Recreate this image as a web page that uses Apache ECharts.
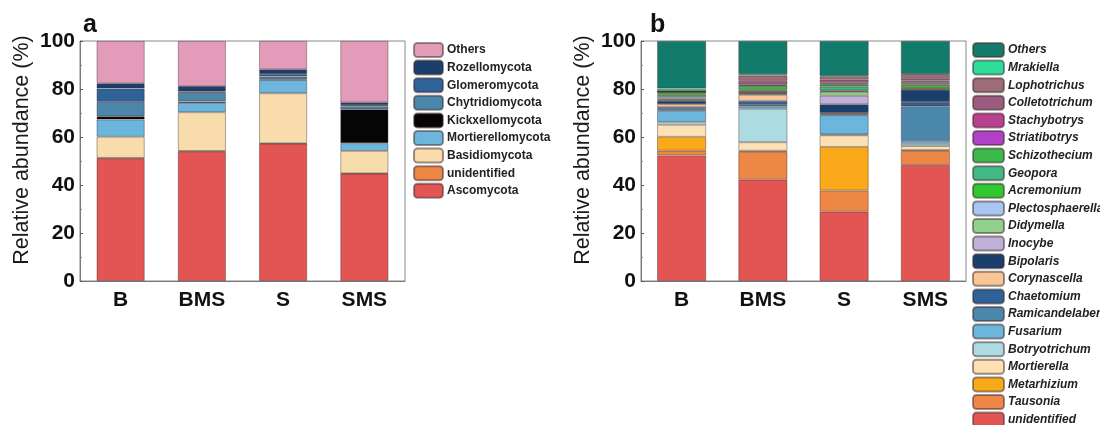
<!DOCTYPE html>
<html>
<head>
<meta charset="utf-8">
<script src="https://cdn.jsdelivr.net/npm/echarts@6/dist/echarts.min.js"></script>
<style>
html,body{margin:0;padding:0;background:#fff;}
#c{width:1100px;height:425px;}
</style>
</head>
<body>
<div id="c"></div>
<script>
// ---- data ----
const samples = ['B', 'BMS', 'S', 'SMS'];
const yTicks = [0, 20, 40, 60, 80, 100];

// panel a: phyla, stacking order bottom -> top
const phyla = ['Ascomycota', 'unidentified', 'Basidiomycota', 'Mortierellomycota', 'Kickxellomycota',
  'Chytridiomycota', 'Glomeromycota', 'Rozellomycota', 'Others'];
const phylaColors = ['#e35552', '#ee8646', '#f8dcab', '#6cb5dc', '#050505',
  '#4b86ab', '#2f6299', '#1b3f6c', '#e39bba'];
const phylumB   = [51.1, 0.2, 8.8, 7.2, 1.3, 6.0, 5.6, 2.2, 17.6];
const phylumBMS = [54.0, 0.2, 16.1, 3.9, 0.6, 3.6, 0.6, 2.2, 18.8];
const phylumS   = [57.2, 0.2, 20.8, 5.5, 0.3, 1.2, 1.0, 2.0, 11.8];
const phylumSMS = [44.7, 0.2, 9.3, 3.2, 14.1, 1.3, 0.5, 1.1, 25.6];

// panel b: genera, stacking order bottom -> top
const genera = ['unidentified', 'Tausonia', 'Metarhizium', 'Mortierella', 'Botryotrichum', 'Fusarium',
  'Ramicandelaber', 'Chaetomium', 'Corynascella', 'Bipolaris', 'Inocybe', 'Didymella', 'Plectosphaerella',
  'Acremonium', 'Geopora', 'Schizothecium', 'Striatibotrys', 'Stachybotrys', 'Colletotrichum',
  'Lophotrichus', 'Mrakiella', 'Others'];
const generaColors = ['#e35552', '#ee8646', '#f9a919', '#fde1b5', '#acdce1', '#6cb5dc',
  '#4b86ab', '#2f6299', '#f8c596', '#1b3f6c', '#c1b1d9', '#8fd18d', '#a9c5f1',
  '#2fc92f', '#41b985', '#3cb94b', '#b141c9', '#b9418f', '#9b5b7f',
  '#9c6c79', '#2edd99', '#137b6b'];
const genusB   = [52.3, 2.0, 5.8, 5.0, 1.2, 4.6, 0.8, 0.8, 1.2, 1.4, 0.3, 0.5, 0.8, 1.0, 0.3, 0.7, 0.1, 0.1, 0.1, 0.2, 1.0, 19.8];
const genusBMS = [42.2, 11.6, 0.5, 3.5, 14.0, 1.0, 0.6, 1.6, 2.6, 0.5, 0.2, 0.3, 0.2, 0.6, 0.3, 1.6, 0.2, 0.3, 1.6, 2.2, 0.6, 13.8];
const genusS   = [28.9, 8.8, 18.2, 4.8, 0.4, 8.0, 0.3, 0.4, 0.2, 3.6, 3.6, 1.6, 0.3, 0.3, 1.6, 0.8, 0.3, 0.4, 1.4, 1.2, 0.4, 14.5];
const genusSMS = [48.4, 5.7, 0.5, 1.6, 1.0, 1.2, 14.4, 1.6, 0.2, 5.0, 0.2, 0.5, 0.2, 1.1, 0.3, 0.6, 0.5, 0.5, 1.0, 1.4, 0.3, 13.8];

// ---- chart ----
const FONT = 'Liberation Sans, Arial, sans-serif';
const phylaRows = [phylumB, phylumBMS, phylumS, phylumSMS];
const generaRows = [genusB, genusBMS, genusS, genusSMS];
// right-panel names get a trailing space so the two legends stay independent
const genusKey = g => (phyla.indexOf(g) >= 0 ? g + ' ' : g);

const series = [];
phyla.forEach((p, i) => {
  series.push({
    name: p, type: 'bar', stack: 'a', xAxisIndex: 0, yAxisIndex: 0,
    barWidth: 48,
    data: phylaRows.map(r => r[i]),
    itemStyle: { color: phylaColors[i], borderColor: 'rgba(60,40,40,0.5)', borderWidth: 0.8 },
    emphasis: { disabled: true }
  });
});
genera.forEach((g, i) => {
  series.push({
    name: genusKey(g), type: 'bar', stack: 'b', xAxisIndex: 1, yAxisIndex: 1,
    barWidth: 49,
    data: generaRows.map(r => r[i]),
    itemStyle: { color: generaColors[i], borderColor: 'rgba(60,40,40,0.5)', borderWidth: 0.8 },
    emphasis: { disabled: true }
  });
});

function xAxis(idx) {
  return {
    type: 'category', gridIndex: idx, data: samples,
    axisLine: { lineStyle: { color: '#777', width: 1 } },
    axisTick: { inside: true, alignWithLabel: true, length: 3, lineStyle: { color: '#555' } },
    axisLabel: { color: '#111', fontSize: 21, fontWeight: 'bold', fontFamily: FONT, margin: 9 }
  };
}
function yAxis(idx) {
  return {
    type: 'value', gridIndex: idx, min: 0, max: 100, interval: 20,
    axisLine: { show: true, lineStyle: { color: '#777', width: 1 } },
    axisTick: { show: true, inside: true, length: 3, lineStyle: { color: '#555' } },
    minorTick: { show: true, splitNumber: 2, length: 2, lineStyle: { color: '#888' } },
    splitLine: { show: false },
    axisLabel: {
      color: '#111', fontSize: 21, fontWeight: 'bold', fontFamily: FONT, margin: 5,
      formatter: v => (yTicks.indexOf(v) >= 0 ? String(v) : '')
    }
  };
}

const genusLegendOrder = genera.slice().reverse().map(genusKey);
const legendCommonB = {
  orient: 'vertical', left: 972, padding: 0, height: 220,
  itemWidth: 31, itemHeight: 14, itemGap: 1.6,
  selectedMode: false,
  textStyle: { color: '#222', fontSize: 12, fontWeight: 'bold', fontStyle: 'italic', fontFamily: FONT, lineHeight: 14, padding: [0, 0, 0, -1] }
};

const chart = echarts.init(document.getElementById('c'), null, { renderer: 'canvas' });
chart.setOption({
  animation: false,
  backgroundColor: '#fff',
  grid: [
    { left: 80, top: 41, width: 325, height: 240, show: true, borderColor: '#888', borderWidth: 1, backgroundColor: 'transparent' },
    { left: 641, top: 41, width: 325, height: 240, show: true, borderColor: '#888', borderWidth: 1, backgroundColor: 'transparent' }
  ],
  xAxis: [xAxis(0), xAxis(1)],
  yAxis: [yAxis(0), yAxis(1)],
  legend: [
    {
      data: phyla.slice().reverse(),
      orient: 'vertical', left: 413, top: 42, padding: 0,
      itemWidth: 29, itemHeight: 14, itemGap: 1.6,
      selectedMode: false,
      textStyle: { color: '#222', fontSize: 12, fontWeight: 'bold', fontFamily: FONT, lineHeight: 14, padding: [0, 0, 0, -1] }
    },
    Object.assign({ data: genusLegendOrder.slice(0, 11), top: 42 }, legendCommonB),
    Object.assign({ data: genusLegendOrder.slice(11), top: 42 + 11 * 17.6 }, legendCommonB)
  ],
  graphic: [
    { type: 'text', left: 83, top: 13, style: { text: 'a', font: 'bold 25px ' + FONT, fill: '#111' } },
    { type: 'text', left: 650, top: 13, style: { text: 'b', font: 'bold 25px ' + FONT, fill: '#111' } },
    { type: 'text', x: 22, y: 150, rotation: Math.PI / 2,
      style: { text: 'Relative abundance (%)', font: '21.5px ' + FONT, fill: '#1a1a1a', align: 'center', verticalAlign: 'middle' } },
    { type: 'text', x: 583, y: 150, rotation: Math.PI / 2,
      style: { text: 'Relative abundance (%)', font: '21.5px ' + FONT, fill: '#1a1a1a', align: 'center', verticalAlign: 'middle' } }
  ],
  series: series
});
</script>
</body>
</html>
